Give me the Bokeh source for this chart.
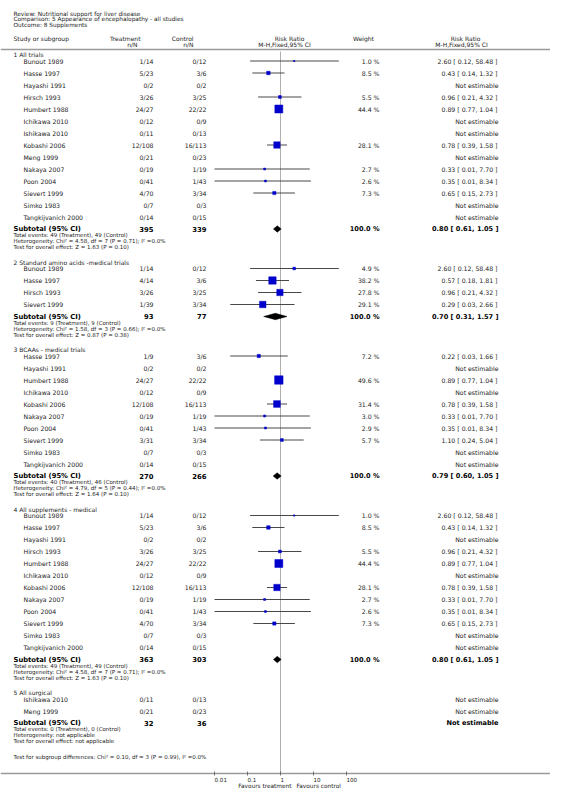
import math
from bokeh.plotting import figure
from bokeh.models import Range1d, ColumnDataSource
from bokeh.embed import file_html
from bokeh.resources import INLINE
from bokeh.core.properties import value

# ---------------- data ----------------
review = "Review:  Nutritional support for liver disease"
comparison = "Comparison:  5 Appearance of encephalopathy - all studies"
outcome = "Outcome:  8 Supplements"

g1_title = "1 All trials"
g1_study = ["Bunout 1989", "Hasse 1997", "Hayashi 1991", "Hirsch 1993", "Humbert 1988",
            "Ichikawa 2010", "Ishikawa 2010", "Kobashi 2006", "Meng 1999", "Nakaya 2007",
            "Poon 2004", "Sievert 1999", "Simko 1983", "Tangkijvanich 2000"]
g1_treat = ["1/14", "5/23", "0/2", "3/26", "24/27", "0/12", "0/11", "12/108", "0/21", "0/19",
            "0/41", "4/70", "0/7", "0/14"]
g1_ctrl = ["0/12", "3/6", "0/2", "3/25", "22/22", "0/9", "0/13", "16/113", "0/23", "1/19",
           "1/43", "3/34", "0/3", "0/15"]
g1_weight = [1.0, 8.5, None, 5.5, 44.4, None, None, 28.1, None, 2.7, 2.6, 7.3, None, None]
g1_rr = [2.60, 0.43, None, 0.96, 0.89, None, None, 0.78, None, 0.33, 0.35, 0.65, None, None]
g1_lo = [0.12, 0.14, None, 0.21, 0.77, None, None, 0.39, None, 0.01, 0.01, 0.15, None, None]
g1_hi = [58.48, 1.32, None, 4.32, 1.04, None, None, 1.58, None, 7.70, 8.34, 2.73, None, None]
g1_total = ["395", "339"]
g1_sub = [0.80, 0.61, 1.05]
g1_notes = ["Total events: 49 (Treatment), 49 (Control)",
            "Heterogeneity: Chi\u00b2 = 4.58, df = 7 (P = 0.71); I\u00b2 =0.0%",
            "Test for overall effect: Z = 1.63 (P = 0.10)"]

g2_title = "2 Standard amino acids -medical trials"
g2_study = ["Bunout 1989", "Hasse 1997", "Hirsch 1993", "Sievert 1999"]
g2_treat = ["1/14", "4/14", "3/26", "1/39"]
g2_ctrl = ["0/12", "3/6", "3/25", "3/34"]
g2_weight = [4.9, 38.2, 27.8, 29.1]
g2_rr = [2.60, 0.57, 0.96, 0.29]
g2_lo = [0.12, 0.18, 0.21, 0.03]
g2_hi = [58.48, 1.81, 4.32, 2.66]
g2_total = ["93", "77"]
g2_sub = [0.70, 0.31, 1.57]
g2_notes = ["Total events: 9 (Treatment), 9 (Control)",
            "Heterogeneity: Chi\u00b2 = 1.58, df = 3 (P = 0.66); I\u00b2 =0.0%",
            "Test for overall effect: Z = 0.87 (P = 0.38)"]

g3_title = "3 BCAAs - medical trials"
g3_study = ["Hasse 1997", "Hayashi 1991", "Humbert 1988", "Ichikawa 2010", "Kobashi 2006",
            "Nakaya 2007", "Poon 2004", "Sievert 1999", "Simko 1983", "Tangkijvanich 2000"]
g3_treat = ["1/9", "0/2", "24/27", "0/12", "12/108", "0/19", "0/41", "3/31", "0/7", "0/14"]
g3_ctrl = ["3/6", "0/2", "22/22", "0/9", "16/113", "1/19", "1/43", "3/34", "0/3", "0/15"]
g3_weight = [7.2, None, 49.6, None, 31.4, 3.0, 2.9, 5.7, None, None]
g3_rr = [0.22, None, 0.89, None, 0.78, 0.33, 0.35, 1.10, None, None]
g3_lo = [0.03, None, 0.77, None, 0.39, 0.01, 0.01, 0.24, None, None]
g3_hi = [1.66, None, 1.04, None, 1.58, 7.70, 8.34, 5.04, None, None]
g3_total = ["270", "266"]
g3_sub = [0.79, 0.60, 1.05]
g3_notes = ["Total events: 40 (Treatment), 46 (Control)",
            "Heterogeneity: Chi\u00b2 = 4.79, df = 5 (P = 0.44); I\u00b2 =0.0%",
            "Test for overall effect: Z = 1.64 (P = 0.10)"]

g4_title = "4 All supplements - medical"
g4_study = ["Bunout 1989", "Hasse 1997", "Hayashi 1991", "Hirsch 1993", "Humbert 1988",
            "Ichikawa 2010", "Kobashi 2006", "Nakaya 2007", "Poon 2004", "Sievert 1999",
            "Simko 1983", "Tangkijvanich 2000"]
g4_treat = ["1/14", "5/23", "0/2", "3/26", "24/27", "0/12", "12/108", "0/19", "0/41", "4/70",
            "0/7", "0/14"]
g4_ctrl = ["0/12", "3/6", "0/2", "3/25", "22/22", "0/9", "16/113", "1/19", "1/43", "3/34",
           "0/3", "0/15"]
g4_weight = [1.0, 8.5, None, 5.5, 44.4, None, 28.1, 2.7, 2.6, 7.3, None, None]
g4_rr = [2.60, 0.43, None, 0.96, 0.89, None, 0.78, 0.33, 0.35, 0.65, None, None]
g4_lo = [0.12, 0.14, None, 0.21, 0.77, None, 0.39, 0.01, 0.01, 0.15, None, None]
g4_hi = [58.48, 1.32, None, 4.32, 1.04, None, 1.58, 7.70, 8.34, 2.73, None, None]
g4_total = ["363", "303"]
g4_sub = [0.80, 0.61, 1.05]
g4_notes = ["Total events: 49 (Treatment), 49 (Control)",
            "Heterogeneity: Chi\u00b2 = 4.58, df = 7 (P = 0.71); I\u00b2 =0.0%",
            "Test for overall effect: Z = 1.63 (P = 0.10)"]

g5_title = "5 All surgical"
g5_study = ["Ishikawa 2010", "Meng 1999"]
g5_treat = ["0/11", "0/21"]
g5_ctrl = ["0/13", "0/23"]
g5_weight = [None, None]
g5_rr = [None, None]
g5_lo = [None, None]
g5_hi = [None, None]
g5_total = ["32", "36"]
g5_sub = [None, None, None]
g5_notes = ["Total events: 0 (Treatment), 0 (Control)",
            "Heterogeneity: not applicable",
            "Test for overall effect: not applicable"]

subgroup_test = "Test for subgroup differences: Chi\u00b2 = 0.10, df = 3 (P = 0.99), I\u00b2 =0.0%"
tick_values = [0.01, 0.1, 1, 10, 100]
tick_labels = ["0.01", "0.1", "1", "10", "100"]
favours_left = "Favours treatment"
favours_right = "Favours control"

groups = [
    (g1_title, g1_study, g1_treat, g1_ctrl, g1_weight, g1_rr, g1_lo, g1_hi, g1_total, g1_sub, g1_notes),
    (g2_title, g2_study, g2_treat, g2_ctrl, g2_weight, g2_rr, g2_lo, g2_hi, g2_total, g2_sub, g2_notes),
    (g3_title, g3_study, g3_treat, g3_ctrl, g3_weight, g3_rr, g3_lo, g3_hi, g3_total, g3_sub, g3_notes),
    (g4_title, g4_study, g4_treat, g4_ctrl, g4_weight, g4_rr, g4_lo, g4_hi, g4_total, g4_sub, g4_notes),
    (g5_title, g5_study, g5_treat, g5_ctrl, g5_weight, g5_rr, g5_lo, g5_hi, g5_total, g5_sub, g5_notes),
]

# ---------------- layout ----------------
W, H = 550, 788
X_ONE, DEC = 280, 33.0   # px of RR = 1, px per decade
FONT = "DejaVu Sans"

p = figure(width=W, height=H, output_backend="svg", toolbar_location=None,
           x_range=Range1d(0, W), y_range=Range1d(H, 0), min_border=0)
p.extra_x_ranges = {"lr": Range1d((0 - X_ONE) / DEC, (W - X_ONE) / DEC)}
p.axis.visible = False
p.grid.visible = False
p.outline_line_color = None
p.background_fill_color = "white"
p.border_fill_color = "white"

texts = {}


def add(x, y, t, size=6.2, bold=False, align="left", color="#222222"):
    key = (size, bold, align, color)
    texts.setdefault(key, {"x": [], "y": [], "t": []})
    texts[key]["x"].append(x)
    texts[key]["y"].append(y)
    texts[key]["t"].append(t)


# header
add(13, 13.3, review, 5.8)
add(13, 18.8, comparison, 5.8)
add(13, 24.3, outcome, 5.8)
add(13, 38, "Study or subgroup", 6.0)
add(140, 38, "Treatment", 6.0, align="right")
add(137, 43.5, "n/N", 6.0, align="right")
add(193, 38, "Control", 6.0, align="right")
add(193, 43.5, "n/N", 6.0, align="right")
add(289, 38, "Risk Ratio", 6.0, align="center")
add(284, 43.5, "M-H,Fixed,95% CI", 6.0, align="center")
add(363, 38, "Weight", 6.0, align="center")
add(465, 38, "Risk Ratio", 6.0, align="center")
add(461, 43.5, "M-H,Fixed,95% CI", 6.0, align="center")

p.segment(x0=[0], x1=[W], y0=[49], y1=[49], line_color="#9a9a9a", line_width=1.6)

sq_x, sq_y, sq_s = [], [], []
ci_x0, ci_x1, ci_y = [], [], []
dia_xs, dia_ys = [], []

y = 54.0
for (title, study, treat, ctrl, weight, rr, lo, hi, total, sub, notes) in groups:
    add(13, y, title, 6.0)
    y += 6.5
    for i in range(len(study)):
        add(23, y, study[i])
        add(153, y, treat[i], align="right")
        add(206, y, ctrl[i], align="right")
        if rr[i] is None:
            add(498, y, "Not estimable", align="right")
        else:
            add(379, y, f"{weight[i]:.1f} %", align="right")
            add(497, y, f"{rr[i]:.2f} [ {lo[i]:.2f}, {hi[i]:.2f} ]", align="right")
            ci_x0.append(math.log10(lo[i]))
            ci_x1.append(math.log10(hi[i]))
            ci_y.append(y)
            sq_x.append(math.log10(rr[i]))
            sq_y.append(y)
            sq_s.append(max(1.3, 1.2 * math.sqrt(weight[i])))
        y += 12
    add(13, y, "Subtotal (95% CI)", 6.8, bold=True, color="#000000")
    add(153, y, total[0], 6.8, bold=True, align="right", color="#000000")
    add(206, y, total[1], 6.8, bold=True, align="right", color="#000000")
    if sub[0] is None:
        add(498, y, "Not estimable", 6.6, bold=True, align="right", color="#000000")
    else:
        add(379, y, "100.0 %", 6.6, bold=True, align="right", color="#000000")
        add(498, y, f"{sub[0]:.2f} [ {sub[1]:.2f}, {sub[2]:.2f} ]", 6.6, bold=True,
            align="right", color="#000000")
        a, b, c = math.log10(sub[1]), math.log10(sub[0]), math.log10(sub[2])
        dia_xs.append([a, b, c, b])
        dia_ys.append([y, y - 3.2, y, y + 3.2])
    for k, note in enumerate(notes):
        add(13, y + 6 * (k + 1), note, 5.5)
    y += 18 + 15

add(13, 756, subgroup_test, 5.5)

# reference line at RR = 1
p.segment(x0=[0], x1=[0], y0=[51], y1=[773], x_range_name="lr",
          line_color="#b0b0b0", line_width=1)

# CIs, markers, diamonds
p.segment(x0=ci_x0, x1=ci_x1, y0=ci_y, y1=ci_y, x_range_name="lr",
          line_color="#333333", line_width=0.9)
p.scatter(x=sq_x, y=sq_y, size=sq_s, marker="square", x_range_name="lr",
          fill_color="#0000cc", line_color="#0000cc", line_width=0.5)
p.patches(xs=dia_xs, ys=dia_ys, x_range_name="lr", fill_color="#000000",
          line_color="#000000", line_width=0.5)

# axis
p.segment(x0=[0], x1=[W], y0=[773], y1=[773], line_color="#9a9a9a", line_width=1.6)
tx = [math.log10(t) for t in tick_values]
p.segment(x0=tx, x1=tx, y0=[771] * len(tx), y1=[775] * len(tx), x_range_name="lr",
          line_color="#555555", line_width=0.8)
p.text(x=tx, y=[778.5] * len(tx), text=tick_labels, x_range_name="lr",
       text_font=value(FONT), text_font_size="5.6px", text_align="left",
       text_baseline="middle", text_color="#222222")
add(291, 785, favours_left, 5.8, align="right")
add(296, 785, favours_right, 5.8, align="left")

for (size, bold, align, color), d in texts.items():
    src = ColumnDataSource(dict(x=d["x"], y=d["y"], t=d["t"]))
    p.text(x="x", y="y", text="t", source=src, text_font=value(FONT),
           text_font_size=f"{size}px", text_font_style="bold" if bold else "normal",
           text_align=align, text_baseline="middle", text_color=color)

open("out.html", "w").write(file_html(p, INLINE))
